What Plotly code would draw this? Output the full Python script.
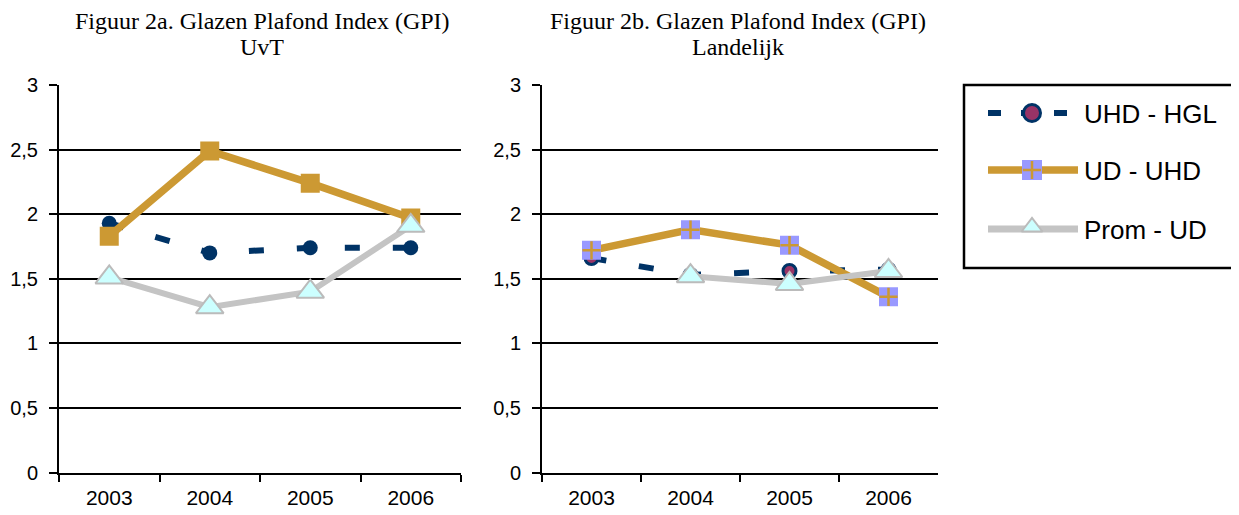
import plotly.graph_objects as go

years = ["2003", "2004", "2005", "2006"]
y_tickvals = [0, 0.5, 1, 1.5, 2, 2.5, 3]
y_ticktext = ["0", "0,5", "1", "1,5", "2", "2,5", "3"]

# Figuur 2a - UvT
uvt_uhd_hgl = [1.93, 1.70, 1.74, 1.74]
uvt_ud_uhd = [1.83, 2.49, 2.24, 1.97]
uvt_prom_ud = [1.51, 1.28, 1.40, 1.91]

# Figuur 2b - Landelijk
lan_uhd_hgl = [1.66, 1.53, 1.56, 1.57]
lan_ud_uhd = [1.72, 1.88, 1.76, 1.36]
lan_prom_ud = [None, 1.52, 1.46, 1.56]

series_names = ["UHD - HGL", "UD - UHD", "Prom - UD"]
title_a = ["Figuur 2a. Glazen Plafond Index (GPI)", "UvT"]
title_b = ["Figuur 2b. Glazen Plafond Index (GPI)", "Landelijk"]

NAVY = "#003366"
GOLD = "#CC9933"
GRAY = "#C4C4C4"
CYAN = "#CCFFFF"
LAV = "#9999FF"
MAROON = "#993366"

W, H = 1239, 515
OFF = 8  # page body margin

def px_x(v):
    return (v - OFF) / W

def px_y(v):
    return 1 - (v - OFF) / H

fig = go.Figure()

# Left chart
fig.add_trace(go.Scatter(x=years, y=uvt_uhd_hgl, mode="lines+markers", xaxis="x", yaxis="y",
                         line=dict(color=NAVY, width=6, dash="15px,33px"),
                         marker=dict(symbol="circle", size=15, color=NAVY), showlegend=False))
fig.add_trace(go.Scatter(x=years, y=uvt_ud_uhd, mode="lines+markers", xaxis="x", yaxis="y",
                         line=dict(color=GOLD, width=7.5),
                         marker=dict(symbol="square", size=19, color=GOLD), showlegend=False))
fig.add_trace(go.Scatter(x=years, y=uvt_prom_ud, mode="lines+markers", xaxis="x", yaxis="y",
                         line=dict(color=GRAY, width=6),
                         marker=dict(symbol="triangle-up", size=24, color=CYAN,
                                     line=dict(color="#BBBBBB", width=2)), showlegend=False))

# Right chart
fig.add_trace(go.Scatter(x=years, y=lan_uhd_hgl, mode="lines+markers", xaxis="x2", yaxis="y2",
                         line=dict(color=NAVY, width=6, dash="15px,33px"),
                         marker=dict(symbol="circle", size=13, color=MAROON,
                                     line=dict(color=NAVY, width=3)), showlegend=False))
fig.add_trace(go.Scatter(x=years, y=lan_ud_uhd, mode="lines+markers", xaxis="x2", yaxis="y2",
                         line=dict(color=GOLD, width=7.5),
                         marker=dict(symbol="square", size=19, color=LAV), showlegend=False))
fig.add_trace(go.Scatter(x=years, y=lan_ud_uhd, mode="markers", xaxis="x2", yaxis="y2",
                         marker=dict(symbol="cross-thin", size=13, color=GOLD,
                                     line=dict(color=GOLD, width=2.5)), showlegend=False))
fig.add_trace(go.Scatter(x=years, y=lan_prom_ud, mode="lines+markers", xaxis="x2", yaxis="y2",
                         line=dict(color=GRAY, width=6),
                         marker=dict(symbol="triangle-up", size=24, color=CYAN,
                                     line=dict(color="#BBBBBB", width=2)), showlegend=False))

# Custom legend on a pixel-scaled helper axis
lx0, lx1, ly0, ly1 = 964, 1237, 85, 268
leg_rows = [113, 170, 229]
sym_x = [988, 1078]
sym_c = 1032
fig.add_trace(go.Scatter(x=sym_x, y=[leg_rows[0]] * 2, mode="lines", xaxis="x3", yaxis="y3",
                         line=dict(color=NAVY, width=6, dash="13px,20px"), showlegend=False))
fig.add_trace(go.Scatter(x=[sym_c], y=[leg_rows[0]], mode="markers", xaxis="x3", yaxis="y3",
                         marker=dict(symbol="circle", size=17, color=MAROON, line=dict(color=NAVY, width=3)),
                         showlegend=False))
fig.add_trace(go.Scatter(x=sym_x, y=[leg_rows[1]] * 2, mode="lines", xaxis="x3", yaxis="y3",
                         line=dict(color=GOLD, width=7.5), showlegend=False))
fig.add_trace(go.Scatter(x=[sym_c], y=[leg_rows[1]], mode="markers", xaxis="x3", yaxis="y3",
                         marker=dict(symbol="square", size=20, color=LAV), showlegend=False))
fig.add_trace(go.Scatter(x=[sym_c], y=[leg_rows[1]], mode="markers", xaxis="x3", yaxis="y3",
                         marker=dict(symbol="cross-thin", size=13, color=GOLD, line=dict(color=GOLD, width=2.5)),
                         showlegend=False))
fig.add_trace(go.Scatter(x=sym_x, y=[leg_rows[2]] * 2, mode="lines", xaxis="x3", yaxis="y3",
                         line=dict(color=GRAY, width=7), showlegend=False))
fig.add_trace(go.Scatter(x=[sym_c], y=[leg_rows[2] - 2], mode="markers", xaxis="x3", yaxis="y3",
                         marker=dict(symbol="triangle-up", size=18, color=CYAN, line=dict(color="#BBBBBB", width=2)),
                         showlegend=False))

ydom = [px_y(472.5), px_y(85)]
common_y = dict(range=[0, 3], tickvals=y_tickvals, ticktext=y_ticktext, showgrid=True,
                gridcolor="black", gridwidth=2, showline=True, linecolor="black", linewidth=2,
                ticks="outside", ticklen=8, tickwidth=2, tickcolor="black", zeroline=False,
                ticklabelstandoff=7, automargin=False,
                tickfont=dict(family="Liberation Sans, Arial", size=20, color="black"), fixedrange=True)
common_x = dict(type="category", range=[-0.5, 3.5], showgrid=False, showline=True, linecolor="black",
                linewidth=2, ticks="outside", ticklen=7, tickwidth=2, tickcolor="black",
                tickson="boundaries", zeroline=False, automargin=False, ticklabelstandoff=5,
                tickfont=dict(family="Liberation Sans, Arial", size=21, color="black"), fixedrange=True)

annotations = []
title_font = dict(family="Liberation Serif, Times New Roman", size=24, color="black")
for lines, cx in [(title_a, 262), (title_b, 738)]:
    for txt, cy in zip(lines, [21, 47]):
        annotations.append(dict(text=txt, x=px_x(cx), y=px_y(cy), xref="paper", yref="paper",
                                xanchor="center", yanchor="middle", showarrow=False,
                                font=title_font))
for name, ry in zip(series_names, leg_rows):
    annotations.append(dict(text=name, x=1082, y=ry + 1, xref="x3", yref="y3", xanchor="left",
                            yanchor="middle", showarrow=False,
                            font=dict(family="Liberation Sans, Arial", size=26, color="black")))

fig.update_layout(
    width=W, height=H, margin=dict(l=0, r=0, t=0, b=0),
    paper_bgcolor="white", plot_bgcolor="white",
    xaxis=dict(domain=[px_x(59), px_x(461)], anchor="y", **common_x),
    yaxis=dict(domain=ydom, anchor="x", **common_y),
    xaxis2=dict(domain=[px_x(542), px_x(938)], anchor="y2", **common_x),
    yaxis2=dict(domain=ydom, anchor="x2", **common_y),
    xaxis3=dict(domain=[px_x(lx0), px_x(lx1)], range=[lx0, lx1], visible=False, fixedrange=True,
                automargin=False),
    yaxis3=dict(domain=[px_y(ly1), px_y(ly0)], range=[ly1, ly0], visible=False, fixedrange=True,
                anchor="x3", automargin=False),
    shapes=[dict(type="rect", xref="paper", yref="paper", x0=px_x(lx0), x1=px_x(lx1),
                 y0=px_y(ly1), y1=px_y(ly0), line=dict(color="black", width=2.5))],
    annotations=annotations,
    showlegend=False,
)

fig.write_html("out.html")
